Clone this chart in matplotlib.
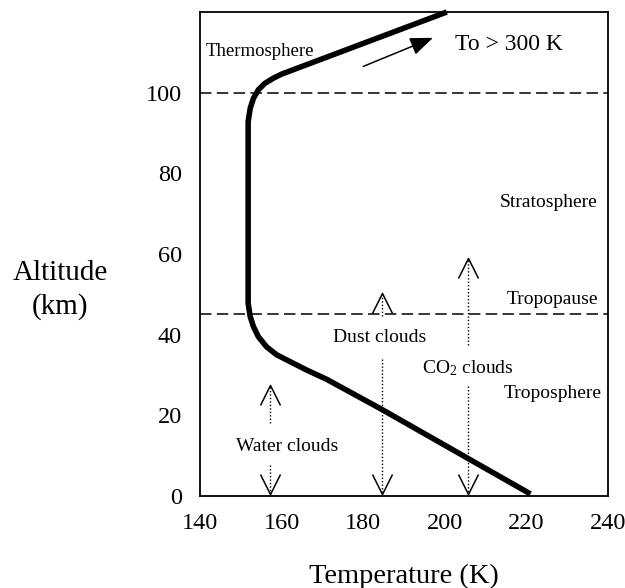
import matplotlib
matplotlib.use("Agg")
import matplotlib.pyplot as plt
from matplotlib.path import Path

plt.rcParams['font.family'] = ['Liberation Serif', 'DejaVu Serif']
plt.rcParams['mathtext.fontset'] = 'custom'
plt.rcParams['mathtext.rm'] = 'Liberation Serif'

# temperature profile (K, km)
temp_K = [221.0, 184.5, 171.1, 166.2, 162.1, 158.8, 156.3, 154.3, 153.1, 152.3, 151.8,
          151.8, 152.3, 153.1, 154.3, 155.9, 158.0, 160.0, 200.5]
alt_km = [0.5, 21.5, 28.9, 31.2, 33.3, 35.0, 37.0, 39.5, 42.0, 44.5, 47.8,
          92.8, 96.1, 98.6, 100.7, 102.3, 103.6, 104.6, 120.0]

# dashed boundaries
boundary_alts = [100, 45]

# cloud layers: x position, upper dotted segment, lower dotted segment, label position
cloud_names = ['Water clouds', 'Dust clouds', r'$\mathregular{CO_2}$ clouds']
cloud_x = [157.2, 184.5, 205.7]
cloud_up = [(18.1, 27.5), (44.6, 50.4), (37.5, 59.0)]
cloud_down = [(7.7, 0.6), (34.0, 0.6), (27.2, 0.6)]
cloud_label_xy = [(161.3, 12.2), (184.1, 39.2), (205.7, 31.8)]

# region labels
region_names = ['Stratosphere', 'Tropopause', 'Troposphere']
region_x = [237.5, 237.5, 238.5]
region_y = [72.7, 48.6, 25.5]

x_ticks = [140, 160, 180, 200, 220, 240]
y_ticks = [0, 20, 40, 60, 80, 100]

fig = plt.figure(figsize=(6.25, 5.88), dpi=100)
ax = fig.add_axes([0.32, 0.1565, 0.6528, 0.8231])

ax.plot(temp_K, alt_km, color='k', lw=4, solid_capstyle='butt',
        solid_joinstyle='round', clip_on=False, zorder=3)

for a in boundary_alts:
    ax.axhline(a, color='k', lw=1.1, dashes=(7.5, 3.5))

# open "V" arrow heads
up_head = Path([(-0.5, -1), (0, 0), (0.5, -1)], [Path.MOVETO, Path.LINETO, Path.LINETO])
down_head = Path([(-0.5, 1), (0, 0), (0.5, 1)], [Path.MOVETO, Path.LINETO, Path.LINETO])

for name, x, up, dn, (lx, ly) in zip(cloud_names, cloud_x, cloud_up, cloud_down, cloud_label_xy):
    ax.plot([x, x], up, color='k', lw=1, ls=(0, (1, 1.5)))
    ax.plot([x, x], dn, color='k', lw=1, ls=(0, (1, 1.5)))
    ax.plot(x, up[1], marker=up_head, ms=28.8, mfc='none', mec='k', mew=1.1, clip_on=False)
    ax.plot(x, dn[1], marker=down_head, ms=28.8, mfc='none', mec='k', mew=1.1, clip_on=False)
    ax.text(lx, ly, name, ha='center', va='center', fontsize=14)

for name, x, y in zip(region_names, region_x, region_y):
    ax.text(x, y, name, ha='right', va='center', fontsize=14)

ax.text(141.3, 110.2, 'Thermosphere', ha='left', va='center', fontsize=13.5)

ax.annotate('', xy=(197.1, 113.6), xytext=(180.0, 106.5),
            arrowprops=dict(arrowstyle='-|>,head_length=1.4,head_width=0.55',
                            color='k', lw=1.1, shrinkA=0, shrinkB=0))
ax.text(202.5, 112.0, 'To > 300 K', ha='left', va='center', fontsize=17)

ax.set_xlim(140, 240)
ax.set_ylim(0, 120)
ax.set_xticks(x_ticks)
ax.set_yticks(y_ticks)
ax.tick_params(length=0, labelsize=17.5)
ax.tick_params(axis='y', pad=13)
ax.tick_params(axis='x', pad=12)
for s in ax.spines.values():
    s.set_linewidth(1.3)

ax.set_xlabel('Temperature (K)', fontsize=20.5, va='center')
ax.xaxis.set_label_coords(0.5, -0.167)
ax.set_ylabel('Altitude\n(km)', fontsize=21, rotation=0, ha='center', va='center',
              linespacing=1.3)
ax.yaxis.set_label_coords(-0.343, 0.4256)

fig.savefig('out.png', dpi=100)
